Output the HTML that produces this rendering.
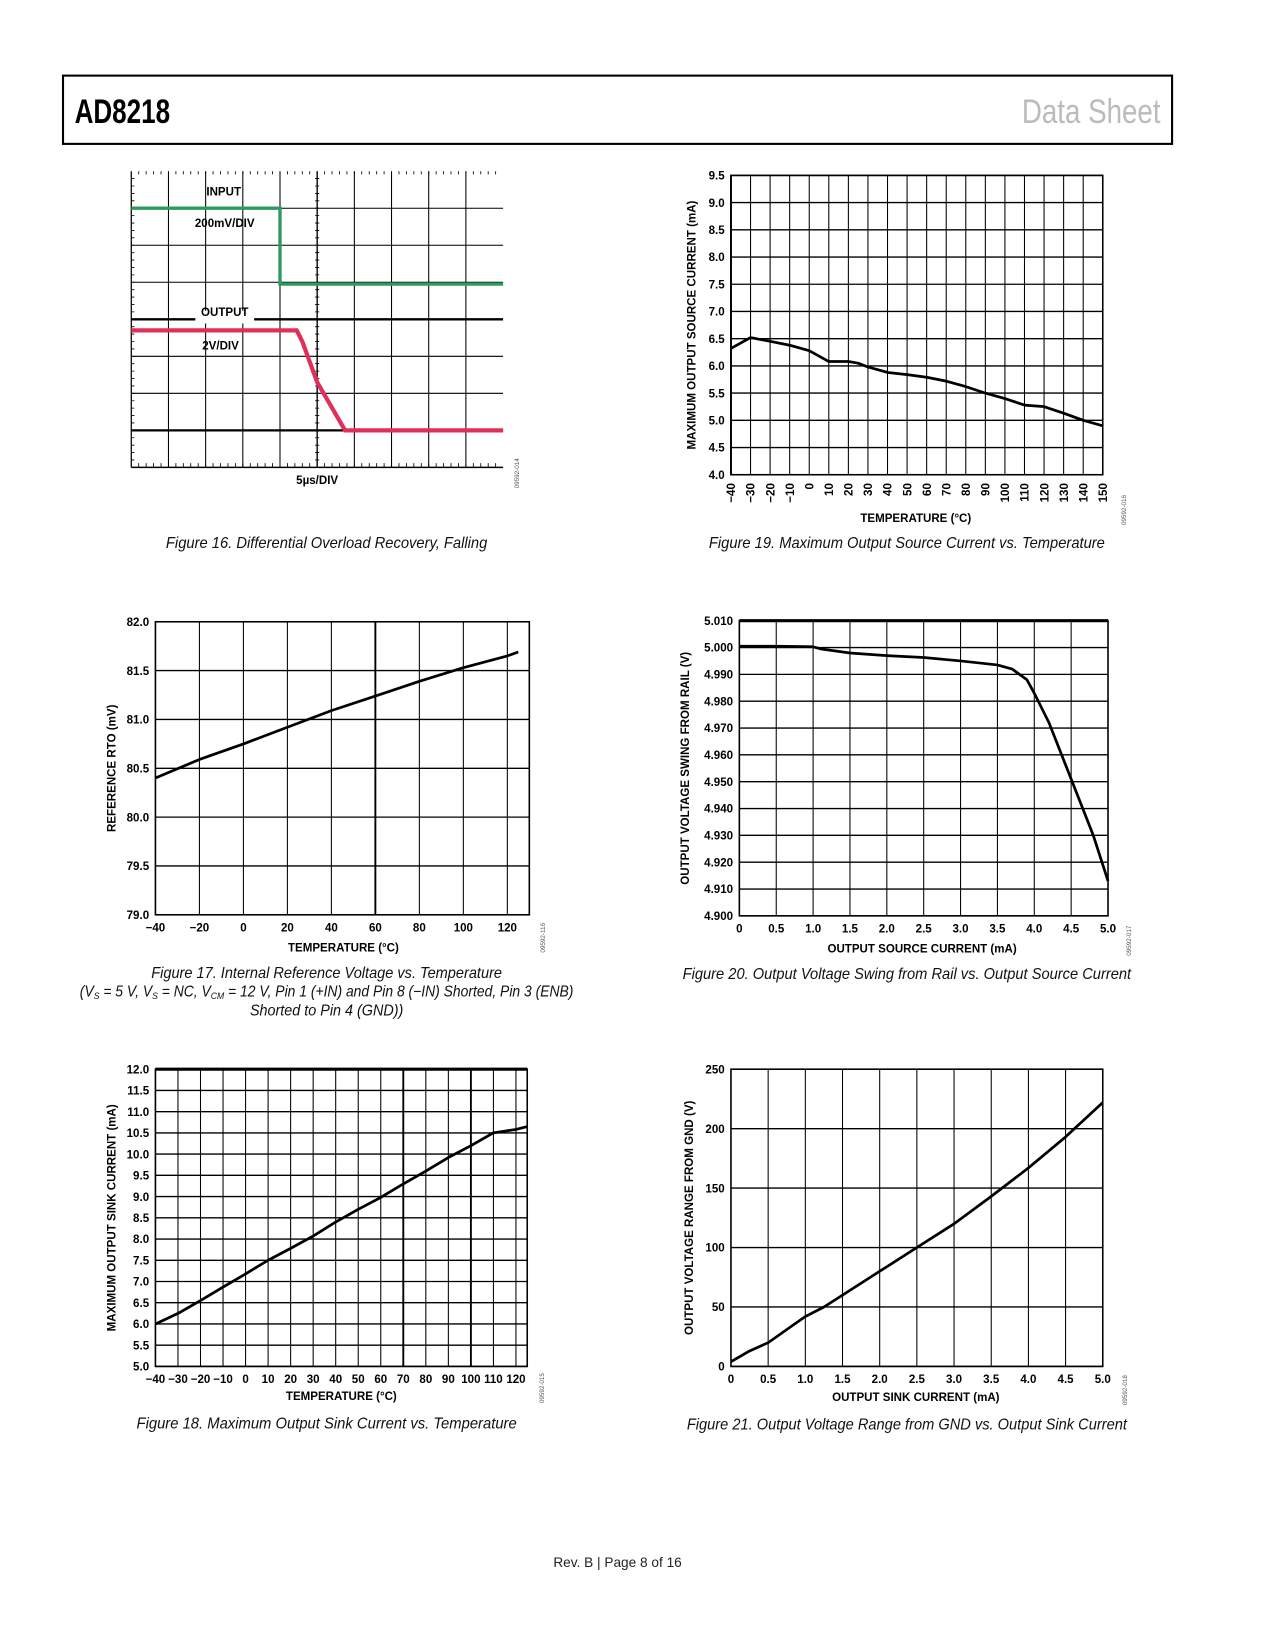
<!DOCTYPE html>
<html><head><meta charset="utf-8"><style>
html,body{margin:0;padding:0;background:#fff;}
svg{display:block;}
text{font-family:"Liberation Sans",Arial,sans-serif;}
.tk{font-size:11px;font-weight:bold;fill:#000;}
.cap{font-family:"Liberation Sans",sans-serif;font-style:italic;font-size:14.5px;fill:#111;}
.code{font-size:6px;fill:#555;}
</style></head><body>
<svg id="pg" width="1275" height="1650" viewBox="0 0 1214 1571" preserveAspectRatio="none" xmlns="http://www.w3.org/2000/svg">
<rect x="60" y="72" width="1056" height="65" fill="none" stroke="#000" stroke-width="2"/>
<text x="71" y="117" font-family="Liberation Sans,sans-serif" font-weight="bold" font-size="33" textLength="91" lengthAdjust="spacingAndGlyphs">AD8218</text>
<text x="973" y="117" font-family="Liberation Sans,sans-serif" font-size="33" fill="#bbb" textLength="132" lengthAdjust="spacingAndGlyphs">Data Sheet</text>

<g id="f16"></g>
<text class="cap" x="158" y="522" textLength="306" lengthAdjust="spacingAndGlyphs">Figure 16. Differential Overload Recovery, Falling</text>
<text class="cap" x="675" y="522" textLength="377" lengthAdjust="spacingAndGlyphs">Figure 19. Maximum Output Source Current vs. Temperature</text>
<text class="cap" x="144" y="931" textLength="334" lengthAdjust="spacingAndGlyphs">Figure 17. Internal Reference Voltage vs. Temperature</text>
<text class="cap" x="76" y="949" textLength="470" lengthAdjust="spacingAndGlyphs">(V<tspan font-size="9" dy="2">S</tspan><tspan dy="-2"> = 5 V, V</tspan><tspan font-size="9" dy="2">S</tspan><tspan dy="-2"> = NC, V</tspan><tspan font-size="9" dy="2">CM</tspan><tspan dy="-2"> = 12 V, Pin 1 (+IN) and Pin 8 (−IN) Shorted, Pin 3 (ENB)</tspan></text>
<text class="cap" x="238" y="967" textLength="146" lengthAdjust="spacingAndGlyphs">Shorted to Pin 4 (GND))</text>
<text class="cap" x="650" y="932" textLength="427" lengthAdjust="spacingAndGlyphs">Figure 20. Output Voltage Swing from Rail vs. Output Source Current</text>
<text class="cap" x="130" y="1360" textLength="362" lengthAdjust="spacingAndGlyphs">Figure 18. Maximum Output Sink Current vs. Temperature</text>
<text class="cap" x="654" y="1361" textLength="419" lengthAdjust="spacingAndGlyphs">Figure 21. Output Voltage Range from GND vs. Output Sink Current</text>
<text x="588" y="1492" text-anchor="middle" font-size="13" font-family="Liberation Sans,sans-serif" fill="#222">Rev. B | Page 8 of 16</text>
</svg>
<script>
// Figure 19 data
const f19X=[-40,-30,-20,-10,0,10,20,25,30,40,50,60,70,80,90,100,110,120,130,140,150];
const f19Y=[6.32,6.52,6.45,6.38,6.28,6.08,6.08,6.05,5.98,5.88,5.84,5.79,5.72,5.62,5.5,5.4,5.28,5.25,5.13,5.0,4.9];
const f19XTicks=["−40","−30","−20","−10","0","10","20","30","40","50","60","70","80","90","100","110","120","130","140","150"];
const f19YTicks=["4.0","4.5","5.0","5.5","6.0","6.5","7.0","7.5","8.0","8.5","9.0","9.5"];
// Figure 17 data
const f17X=[-40,-20,0,20,40,60,80,100,120,125];
const f17Y=[80.40,80.59,80.75,80.92,81.09,81.24,81.39,81.53,81.65,81.69];
const f17XTicks=["−40","−20","0","20","40","60","80","100","120"];
const f17YTicks=["79.0","79.5","80.0","80.5","81.0","81.5","82.0"];
// Figure 20 data
const f20X=[0,0.5,1.0,1.1,1.5,2.0,2.5,3.0,3.5,3.7,3.9,4.0,4.2,4.5,4.8,5.0];
const f20Y=[5.0005,5.0005,5.0003,4.9995,4.998,4.997,4.9963,4.995,4.9935,4.992,4.988,4.983,4.972,4.951,4.930,4.913];
const f20XTicks=["0","0.5","1.0","1.5","2.0","2.5","3.0","3.5","4.0","4.5","5.0"];
const f20YTicks=["4.900","4.910","4.920","4.930","4.940","4.950","4.960","4.970","4.980","4.990","5.000","5.010"];
// Figure 18 data
const f18X=[-40,-30,-20,-10,0,10,20,30,40,50,60,70,80,90,100,110,120,125];
const f18Y=[6.0,6.25,6.55,6.87,7.18,7.5,7.78,8.07,8.4,8.7,8.98,9.3,9.6,9.92,10.2,10.5,10.58,10.65];
const f18XTicks=["−40","−30","−20","−10","0","10","20","30","40","50","60","70","80","90","100","110","120"];
const f18YTicks=["5.0","5.5","6.0","6.5","7.0","7.5","8.0","8.5","9.0","9.5","10.0","10.5","11.0","11.5","12.0"];
// Figure 21 data
const f21X=[0,0.25,0.5,0.75,1.0,1.25,1.5,2.0,2.5,3.0,3.5,4.0,4.5,5.0];
const f21Y=[4,13,20,31,42,50,60,80,100,120,143,167,193,222];
const f21XTicks=["0","0.5","1.0","1.5","2.0","2.5","3.0","3.5","4.0","4.5","5.0"];
const f21YTicks=["0","50","100","150","200","250"];
// Figure 16 scope traces (in divisions: x 0..10, y 0..8 from top)
const f16InT=[0,4.0,4.0,10];
const f16InV=[1.0,1.0,3.05,3.05];
const f16OutT=[0,4.45,4.6,5.0,5.75,10];
const f16OutV=[4.3,4.3,4.6,5.7,7.0,7.0];

const NS="http://www.w3.org/2000/svg";
const pg=document.getElementById('pg');
function mk(tag,at,parent){const e=document.createElementNS(NS,tag);for(const k in at)e.setAttribute(k,at[k]);(parent||pg).appendChild(e);return e;}

function chart(o){
  const g=mk('g',{});
  
  
  const sx=v=>o.x0+(v-o.xmin)/(o.xmax-o.xmin)*(o.x1-o.x0);
  const sy=v=>o.y1-(v-o.ymin)/(o.ymax-o.ymin)*(o.y1-o.y0);
  for(let v=o.xmin;v<=o.xmax+1e-9;v+=o.xgrid){const X=sx(v);const l=mk('line',{x1:X,x2:X,y1:o.y0,y2:o.y1,stroke:'#000','stroke-width':(o.thickX&&o.thickX.some(t=>Math.abs(t-v)<1e-6))?1.8:1},g);
    }
  for(let v=o.ymin;v<=o.ymax+1e-9;v+=o.ygrid){const Y=sy(v);const l=mk('line',{x1:o.x0,x2:o.x1,y1:Y,y2:Y,stroke:'#000','stroke-width':1.3},g);
    }
  const r=mk('rect',{x:o.x0,y:o.y0,width:o.x1-o.x0,height:o.y1-o.y0,fill:'none',stroke:'#000','stroke-width':1.5},g);
  
  if(o.thickTop){const t=mk('line',{x1:o.x0,x2:o.x1,y1:o.y0,y2:o.y0,stroke:'#000','stroke-width':3},g);}
  o.yTicks.forEach((s,i)=>{const v=o.ymin+i*o.ystep;const t=mk('text',{x:o.x0-6,y:sy(v)+4,'text-anchor':'end',class:'tk'},g);t.textContent=s;
    });
  o.xTicks.forEach((s,i)=>{const v=o.xmin+i*o.xstep;let t;
    if(o.rotX){t=mk('text',{x:0,y:0,'text-anchor':'end',class:'tk',transform:`translate(${sx(v)+4},${o.y1+8}) rotate(-90)`},g);}
    else{t=mk('text',{x:sx(v),y:o.y1+16,'text-anchor':'middle',class:'tk'},g);}
    t.textContent=s;});
  const xt=mk('text',{x:o.xtx,y:o.xty,'text-anchor':'middle',class:'tk'},g);xt.textContent=o.xTitle;
  
  const yt=mk('text',{x:0,y:0,'text-anchor':'middle',class:'tk',transform:`translate(${o.ytx},${(o.y0+o.y1)/2}) rotate(-90)`},g);yt.textContent=o.yTitle;
  
  const cd=mk('text',{x:0,y:0,class:'code',transform:`translate(${o.codex},${o.codey}) rotate(-90)`},g);cd.textContent=o.code;
  
  const d=o.xs.map((v,i)=>(i?'L':'M')+sx(v).toFixed(1)+','+sy(o.ys[i]).toFixed(1)).join('');
  const p=mk('path',{d:d,fill:'none',stroke:'#000','stroke-width':2.6,'stroke-linejoin':'round'},g);
  
}

chart({name:'figure-19-chart',x0:696,x1:1050,y0:167,y1:452,xmin:-40,xmax:150,ymin:4,ymax:9.5,xgrid:10,ygrid:0.5,xstep:10,ystep:0.5,
 xTicks:f19XTicks,yTicks:f19YTicks,rotX:true,xs:f19X,ys:f19Y,xTitle:'TEMPERATURE (°C)',xtx:872,xty:497,yTitle:'MAXIMUM OUTPUT SOURCE CURRENT (mA)',ytx:662,code:'09592-016',codex:1072,codey:500,thickX:[-40]});
chart({name:'figure-17-chart',x0:148,x1:504,y0:592,y1:871,xmin:-40,xmax:130,ymin:79,ymax:82,xgrid:20,ygrid:0.5,xstep:20,ystep:0.5,
 xTicks:f17XTicks,yTicks:f17YTicks,xs:f17X,ys:f17Y,xTitle:'TEMPERATURE (°C)',xtx:327,xty:906,yTitle:'REFERENCE RTO (mV)',ytx:110,code:'09592-116',codex:519,codey:907,thickX:[60]});
chart({name:'figure-20-chart',x0:704,x1:1055,y0:591,y1:872,xmin:0,xmax:5,ymin:4.9,ymax:5.01,xgrid:0.5,ygrid:0.01,xstep:0.5,ystep:0.01,
 xTicks:f20XTicks,yTicks:f20YTicks,xs:f20X,ys:f20Y,xTitle:'OUTPUT SOURCE CURRENT (mA)',xtx:878,xty:907,yTitle:'OUTPUT VOLTAGE SWING FROM RAIL (V)',ytx:656,code:'09592-017',codex:1077,codey:910,thickTop:true});
chart({name:'figure-18-chart',x0:148,x1:502,y0:1018,y1:1301,xmin:-40,xmax:125,ymin:5,ymax:12,xgrid:10,ygrid:0.5,xstep:10,ystep:0.5,
 xTicks:f18XTicks,yTicks:f18YTicks,xs:f18X,ys:f18Y,xTitle:'TEMPERATURE (°C)',xtx:325,xty:1333,yTitle:'MAXIMUM OUTPUT SINK CURRENT (mA)',ytx:110,code:'09592-015',codex:518,codey:1336,thickX:[70,100],thickTop:true});
chart({name:'figure-21-chart',x0:696,x1:1050,y0:1018,y1:1301,xmin:0,xmax:5,ymin:0,ymax:250,xgrid:0.5,ygrid:50,xstep:0.5,ystep:50,
 xTicks:f21XTicks,yTicks:f21YTicks,xs:f21X,ys:f21Y,xTitle:'OUTPUT SINK CURRENT (mA)',xtx:872,xty:1334,yTitle:'OUTPUT VOLTAGE RANGE FROM GND (V)',ytx:660,code:'09592-018',codex:1073,codey:1338});

// Figure 16 scope
(function(){
  const g=document.getElementById('f16');
  const X0=125,X1=479,Y0=163,Y1=445,dx=(X1-X0)/10,dy=(Y1-Y0)/8;
  const sx=v=>X0+v*dx, sy=v=>Y0+v*dy;
  for(let i=1;i<10;i++){const l=mk('line',{x1:sx(i),x2:sx(i),y1:Y0,y2:Y1,stroke:'#000','stroke-width':i==5?1.3:1},g);}
  for(let j=1;j<8;j++){const w=(j==4||j==7)?2.2:1;const l=mk('line',{x1:X0,x2:X1,y1:sy(j),y2:sy(j),stroke:'#000','stroke-width':w},g);}
  const m=mk('rect',{x:186,y:296,width:56,height:12,fill:'#fff'},g);
  const b=mk('line',{x1:X0,x2:X1,y1:Y1,y2:Y1,stroke:'#000','stroke-width':1.5},g);
  const lf=mk('line',{x1:X0,x2:X0,y1:Y0,y2:Y1,stroke:'#000','stroke-width':1.2},g);
  let td='';for(let i=1;i<50;i++){const x=X0+i*dx/5;td+=`M${x},${Y1}v-4M${x},${Y0}v3`;}
  for(let j=1;j<40;j++){const y=Y0+j*dy/5;td+=`M${X0},${y}h3M${sx(5)-2},${y}h4`;}
  const tk=mk('path',{d:td,stroke:'#000','stroke-width':0.8,fill:'none'},g);
  const pIn=f16InT.map((v,i)=>(i?'L':'M')+sx(v)+','+sy(f16InV[i])).join('');
  const a=mk('path',{d:pIn,fill:'none',stroke:'#2e9a5f','stroke-width':3.2},g);
  const pOut=f16OutT.map((v,i)=>(i?'L':'M')+sx(v)+','+sy(f16OutV[i])).join('');
  const c=mk('path',{d:pOut,fill:'none',stroke:'#e0305a','stroke-width':4},g);
  [['INPUT',213,186,'input-label'],['200mV/DIV',214,216,'input-scale-label'],['OUTPUT',214,301,'output-label'],['2V/DIV',210,333,'output-scale-label'],['5µs/DIV',302,461,'time-scale-label']].forEach(s=>{
    const t=mk('text',{x:s[1],y:s[2],'text-anchor':'middle',class:'tk'},g);t.textContent=s[0];});
  const cd=mk('text',{x:0,y:0,class:'code',transform:'translate(494,465) rotate(-90)'},g);cd.textContent='09592-014';
})();
</script>
</body></html>
